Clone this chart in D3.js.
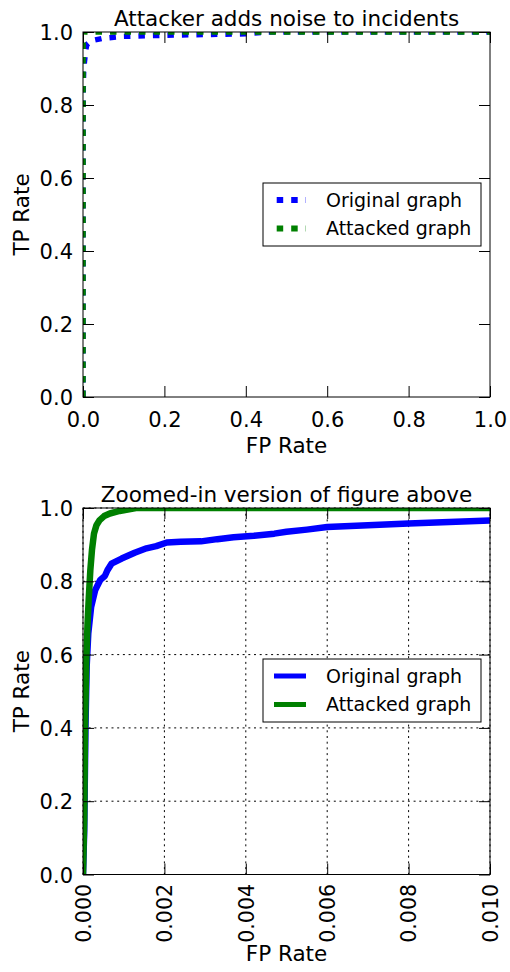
<!DOCTYPE html>
<html>
<head>
<meta charset="utf-8">
<script src="https://cdn.jsdelivr.net/npm/d3@7"></script>
<style>
  body { margin: 0; background: #fff; }
  text { font-family: "DejaVu Sans", sans-serif; fill: #000; }
</style>
</head>
<body>
<div id="visual"></div>
<script>
// ROC points (FP rate, TP rate)
var origFpr = [0, 0.00003, 0.00006, 0.00009, 0.00013, 0.0002, 0.0003, 0.00042, 0.00054, 0.0006, 0.0007, 0.00095, 0.00127, 0.00156, 0.0018, 0.00206, 0.0024, 0.0029, 0.0033, 0.0037, 0.0042, 0.0047, 0.005, 0.0055, 0.006, 0.007, 0.008, 0.009, 0.01, 0.015, 0.02, 0.05, 0.1, 0.2, 0.3, 0.4, 0.45, 1.0];
var origTpr = [0, 0.12, 0.4, 0.567, 0.658, 0.73, 0.776, 0.803, 0.815, 0.83, 0.848, 0.862, 0.878, 0.89, 0.896, 0.906, 0.908, 0.909, 0.915, 0.92, 0.924, 0.93, 0.935, 0.941, 0.948, 0.953, 0.958, 0.962, 0.966, 0.971, 0.976, 0.983, 0.988, 0.991, 0.993, 0.995, 1.0, 1.0];

var attFpr = [0, 0.00003, 0.00005, 0.00008, 0.00011, 0.00014, 0.00018, 0.00022, 0.00027, 0.00033, 0.00041, 0.00052, 0.00066, 0.0009, 0.0013, 1.0];
var attTpr = [0, 0.15, 0.4, 0.58, 0.68, 0.75, 0.83, 0.885, 0.93, 0.953, 0.967, 0.978, 0.985, 0.992, 1.0, 1.0];

var seriesNames = ["Original graph", "Attacked graph"];
var seriesColors = ["#0000ff", "#008000"];

var yTicks = [0, 0.2, 0.4, 0.6, 0.8, 1.0];
var xTicksFull = [0, 0.2, 0.4, 0.6, 0.8, 1.0];
var xTicksZoom = [0, 0.002, 0.004, 0.006, 0.008, 0.010];

var titles = ["Attacker adds noise to incidents", "Zoomed-in version of figure above"];

var W = 510, H = 972;
var svg = d3.select("#visual").append("svg")
  .attr("width", W).attr("height", H);

function zip(xs, ys) { return xs.map(function(x, i) { return [x, ys[i]]; }); }
var series = [zip(origFpr, origTpr), zip(attFpr, attTpr)];

function panel(p) {
  var x = d3.scaleLinear().domain(p.xDomain).range([p.left, p.right]);
  var y = d3.scaleLinear().domain([0, 1]).range([p.bottom, p.top]);
  var g = svg.append("g");

  g.append("defs").append("clipPath").attr("id", p.id)
    .append("rect")
    .attr("x", p.left).attr("y", p.top)
    .attr("width", p.right - p.left).attr("height", p.bottom - p.top);

  // grid (only in the zoomed panel)
  if (p.grid) {
    g.selectAll(".gx").data(p.xTicks).enter().append("line")
      .attr("x1", function(d) { return x(d); }).attr("x2", function(d) { return x(d); })
      .attr("y1", p.top).attr("y2", p.bottom)
      .attr("stroke", "#000").attr("stroke-width", 1).attr("stroke-dasharray", "2,3.7");
    g.selectAll(".gy").data(yTicks).enter().append("line")
      .attr("y1", function(d) { return y(d); }).attr("y2", function(d) { return y(d); })
      .attr("x1", p.left).attr("x2", p.right)
      .attr("stroke", "#000").attr("stroke-width", 1).attr("stroke-dasharray", "2,3.7");
  }

  var line = d3.line().x(function(d) { return x(d[0]); }).y(function(d) { return y(d[1]); });
  var lines = g.append("g").attr("clip-path", "url(#" + p.id + ")");
  series.forEach(function(s, i) {
    lines.append("path")
      .datum(s)
      .attr("d", line)
      .attr("fill", "none")
      .attr("stroke", seriesColors[i])
      .attr("stroke-width", p.lw)
      .attr("stroke-dasharray", p.dash)
      .attr("stroke-linejoin", "round");
  });

  // axes with inward ticks on all sides
  var tl = 11;
  var bottomAx = d3.axisBottom(x).tickValues(p.xTicks).tickSize(-tl).tickFormat(d3.format(p.xFmt));
  var topAx = d3.axisTop(x).tickValues(p.xTicks).tickSize(-tl).tickFormat("");
  var leftAx = d3.axisLeft(y).tickValues(yTicks).tickSize(-tl).tickFormat(d3.format(".1f"));
  var rightAx = d3.axisRight(y).tickValues(yTicks).tickSize(-tl).tickFormat("");

  var axB = g.append("g").attr("transform", "translate(0," + p.bottom + ")").call(bottomAx);
  g.append("g").attr("transform", "translate(0," + p.top + ")").call(topAx);
  var axL = g.append("g").attr("transform", "translate(" + p.left + ",0)").call(leftAx);
  g.append("g").attr("transform", "translate(" + p.right + ",0)").call(rightAx);

  g.selectAll(".domain").remove();
  g.selectAll(".tick line").attr("stroke", "#000").attr("stroke-width", 1);
  g.selectAll(".tick text").style("font-size", "21px").style("font-family", "DejaVu Sans");

  axL.selectAll(".tick text").attr("x", -10).attr("dy", "0.36em");
  if (p.rotate) {
    axB.selectAll(".tick text")
      .style("font-size", "20.5px")
      .attr("text-anchor", "end")
      .attr("transform", "rotate(-90)")
      .attr("x", -9.5).attr("y", 0).attr("dy", "0.36em");
  } else {
    axB.selectAll(".tick text").attr("y", 15).attr("dy", "0.71em");
  }

  // frame
  g.append("rect")
    .attr("x", p.left).attr("y", p.top)
    .attr("width", p.right - p.left).attr("height", p.bottom - p.top)
    .attr("fill", "none").attr("stroke", "#000").attr("stroke-width", 1);

  var cx = (p.left + p.right) / 2;
  g.append("text").attr("x", cx).attr("y", p.top - 6)
    .attr("text-anchor", "middle").style("font-size", "21.5px").text(p.title);
  g.append("text").attr("x", cx).attr("y", p.xLabelY)
    .attr("text-anchor", "middle").style("font-size", "21.5px").text("FP Rate");
  g.append("text")
    .attr("transform", "translate(29," + (p.top + p.bottom) / 2 + ") rotate(-90)")
    .attr("text-anchor", "middle").style("font-size", "21.5px").text("TP Rate");

  // legend
  var lg = g.append("g");
  lg.append("rect")
    .attr("x", 263).attr("y", p.legTop).attr("width", 218).attr("height", 63)
    .attr("fill", "#fff").attr("stroke", "#000").attr("stroke-width", 1);
  seriesNames.forEach(function(name, i) {
    var ry = p.legTop + 17 + i * 28.5;
    lg.append("line")
      .attr("x1", p.legX1).attr("x2", 306).attr("y1", ry).attr("y2", ry)
      .attr("stroke", seriesColors[i]).attr("stroke-width", p.legLw)
      .attr("stroke-dasharray", p.dash);
    lg.append("text").attr("x", 326).attr("y", ry + 6.5)
      .style("font-size", "19px").text(name);
  });
}

panel({
  id: "clipTop", left: 83, right: 490, top: 32, bottom: 397,
  xDomain: [0, 1], xTicks: xTicksFull, xFmt: ".1f", rotate: false,
  grid: false, lw: 5.5, dash: "6.5,8", legLw: 6, legX1: 276.7,
  title: titles[0], xLabelY: 453, legTop: 183
});

panel({
  id: "clipBottom", left: 83, right: 490, top: 508, bottom: 874.5,
  xDomain: [0, 0.01], xTicks: xTicksZoom, xFmt: ".3f", rotate: true,
  grid: true, lw: 6.5, dash: null, legLw: 5, legX1: 274,
  title: titles[1], xLabelY: 961, legTop: 659
});
</script>
</body>
</html>
